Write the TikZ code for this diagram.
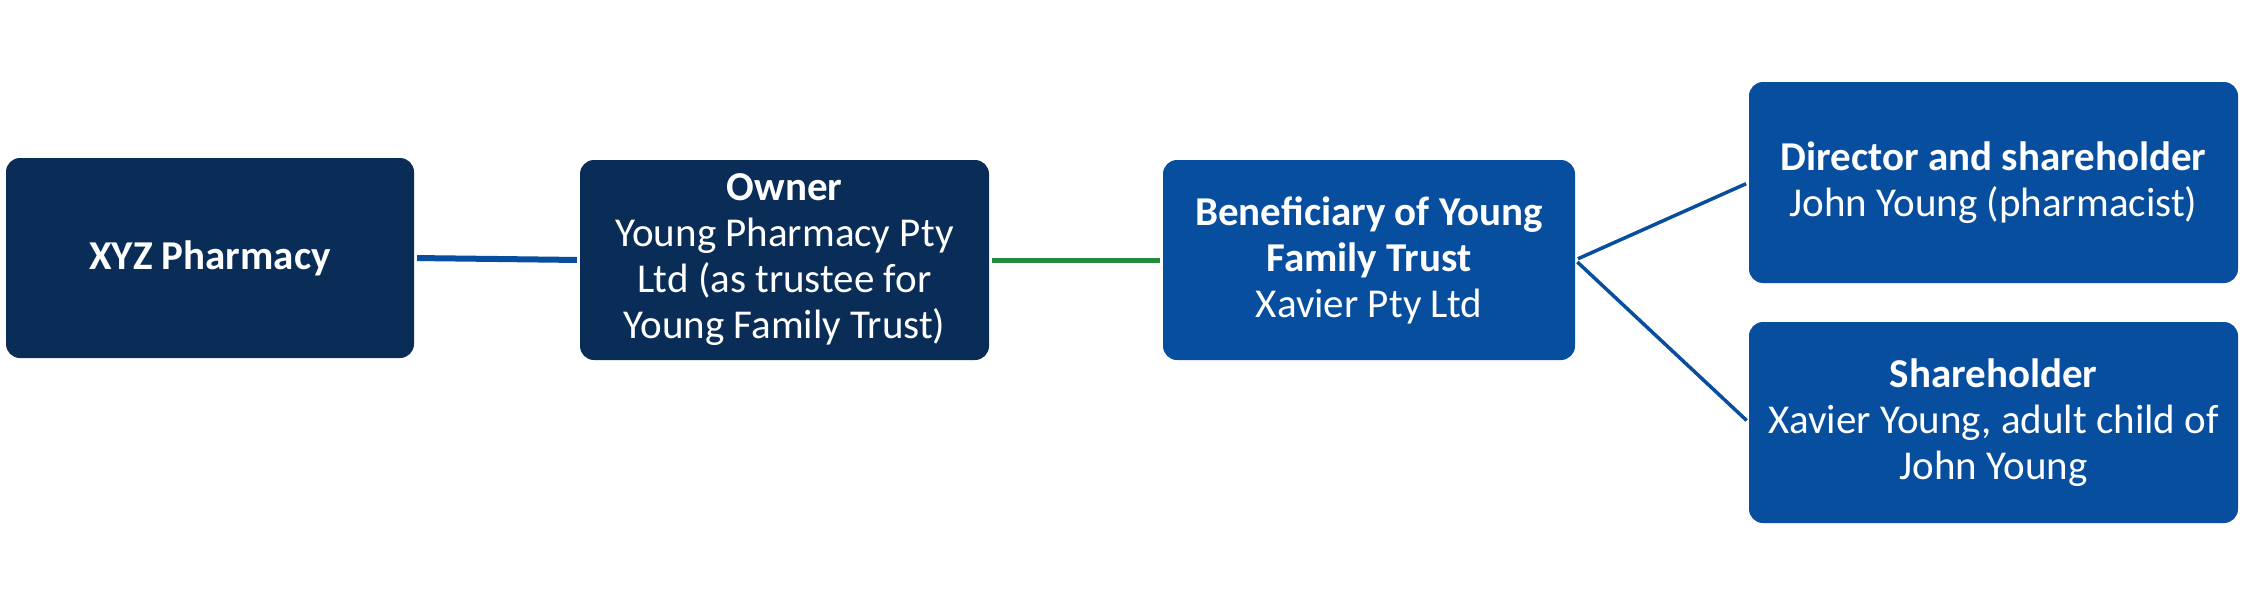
\documentclass[tikz,border=0pt]{standalone}
\usepackage{fontspec}
\setmainfont{Carlito}
\definecolor{navy}{RGB}{10,45,88}
\definecolor{blu}{RGB}{7,78,158}
\definecolor{grn}{RGB}{32,140,60}
\begin{document}
\begin{tikzpicture}[x=1pt,y=-1pt,
  box/.style={rounded corners=14pt, text=white, align=center,
    font=\fontsize{41}{46}\selectfont, inner sep=0pt},
  navybox/.style={box, fill=navy},
  bluebox/.style={box, fill=blu},
  link/.style={line width=#1, shorten >=3pt, shorten <=3pt}
]
\useasboundingbox (0,0) rectangle (2255,605);
\node[navybox, minimum width=408pt, minimum height=200pt] (a) at (210,258) {\textbf{XYZ Pharmacy}};
\node[navybox, minimum width=409pt, minimum height=200pt] (b) at (784.5,260) {\textbf{Owner}\\Young Pharmacy Pty\\Ltd (as trustee for\\Young Family Trust)};
\node[bluebox, minimum width=412pt, minimum height=200pt] (c) at (1369,260) {\textbf{Beneficiary of Young}\\\textbf{Family Trust}\\Xavier Pty Ltd};
\node[bluebox, minimum width=489pt, minimum height=201pt] (d) at (1993.5,182.5) {\textbf{Director and shareholder}\\John Young (pharmacist)};
\node[bluebox, minimum width=489pt, minimum height=201pt] (e) at (1993.5,422.5) {\textbf{Shareholder}\\Xavier Young, adult child of\\John Young};
\draw[link=6pt, blu] (a.east) -- (b.west);
\draw[link=5pt, grn] (b.east) -- (c.west);
\draw[link=3.5pt, blu] (c.east) -- (d.west);
\draw[link=3.5pt, blu] (c.east) -- (e.west);
\end{tikzpicture}
\end{document}
